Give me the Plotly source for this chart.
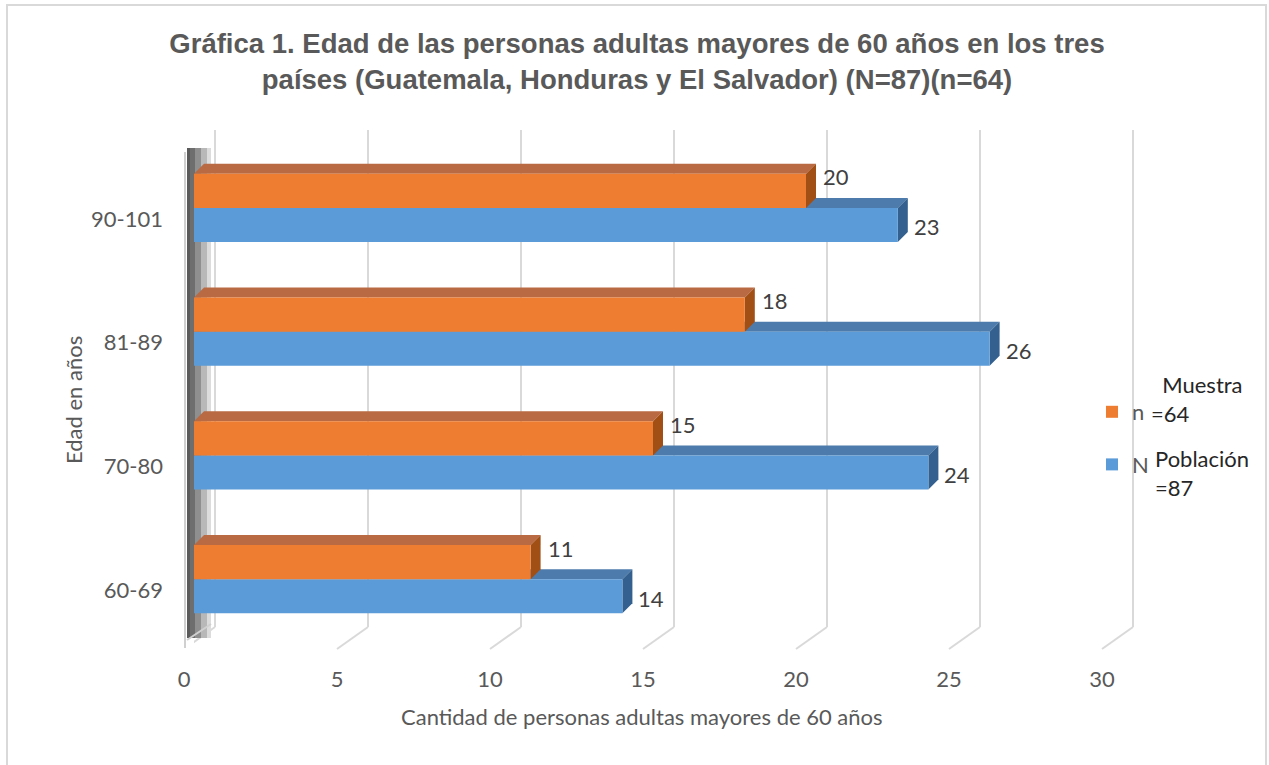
import plotly.graph_objects as go

# ---------------- data ----------------
categories = ["60-69", "70-80", "81-89", "90-101"]
poblacion_N = [14, 24, 26, 23]     # N = 87 (blue)
muestra_n = [11, 15, 18, 20]       # n = 64 (orange)
x_ticks = [0, 5, 10, 15, 20, 25, 30]

# ---------------- geometry helpers ----------------
W, H = 1269, 765


def px(x):
    return x / W


def py(y):
    return 1 - y / H


UX = 30.6            # pixels per unit on x
X0 = 194             # pixel of x = 0 (front face)
XR = 31.5            # x-axis range end
Y0, Y1 = 146, 641    # plot area top / bottom (pixels)
UY = (Y1 - Y0) / len(categories)
BARGAP = 0.45
BARW = (1 - BARGAP) / 2
DX = 10 / UX         # 3-D depth in data units
DY = 10 / UY

ORANGE = "#ef7d31"
ORANGE_TOP = "#b96a42"
ORANGE_SIDE = "#a24f16"
BLUE = "#5b9bd8"
BLUE_TOP = "#4d7bab"
BLUE_SIDE = "#33608f"
GRID = "#d9d9d9"
TXT = "#595959"
FONT = "Lato"
FS = 22

idx = list(range(len(categories)))

fig = go.Figure()
fig.add_trace(go.Bar(
    y=idx, x=poblacion_N, orientation="h", name="N",
    marker=dict(color=BLUE, line=dict(width=0)),
    legendgroup="N", legendrank=2,
))
fig.add_trace(go.Bar(
    y=idx, x=muestra_n, orientation="h", name="n",
    marker=dict(color=ORANGE, line=dict(width=0)),
    legendgroup="n", legendrank=1,
))

shapes = []
# chart border
shapes.append(dict(type="rect", xref="paper", yref="paper",
                   x0=px(7), x1=px(1266), y0=py(5), y1=py(775),
                   line=dict(color=GRID, width=2), layer="below"))
# back-wall gridlines + floor diagonals
for v in x_ticks:
    xb = v + 21 / UX
    xf = v - 10 / UX
    shapes.append(dict(type="line", xref="x", yref="paper",
                       x0=xb, x1=xb, y0=py(627), y1=py(130),
                       line=dict(color=GRID, width=2), layer="below"))
    shapes.append(dict(type="line", xref="x", yref="paper",
                       x0=xb, x1=xf, y0=py(627), y1=py(649),
                       line=dict(color=GRID, width=2), layer="below"))
# left wall (striped to suggest the shaded 3-D wall)
shapes.append(dict(type="line", xref="paper", yref="paper",
                   x0=px(185), x1=px(185), y0=py(152), y1=py(648),
                   line=dict(color="#d0d0d0", width=2), layer="below"))
for xa, xb_, col in [(187, 190, "#5a5a5a"), (190, 195, "#6e6e6e"),
                     (195, 201, "#8f8f8f"), (201, 207, "#b8b8b8"),
                     (207, 211, "#dcdcdc")]:
    shapes.append(dict(type="rect", xref="paper", yref="paper",
                       x0=px(xa), x1=px(xb_), y0=py(148), y1=py(638),
                       fillcolor=col, line=dict(width=0), layer="below"))
shapes.append(dict(type="line", xref="paper", yref="paper",
                   x0=px(187), x1=px(211), y0=py(640), y1=py(624),
                   line=dict(color="#d0d0d0", width=2), layer="below"))


def faces(values, offset, top_c, side_c):
    out = []
    for i, v in zip(idx, values):
        yb = i + offset - BARW / 2
        yt = i + offset + BARW / 2
        out.append(dict(type="path", xref="x", yref="y", layer="below",
                        path=f"M0,{yt} L{DX},{yt + DY} L{v + DX},{yt + DY} L{v},{yt} Z",
                        fillcolor=top_c, line=dict(width=0)))
        out.append(dict(type="path", xref="x", yref="y", layer="below",
                        path=f"M{v},{yb} L{v},{yt} L{v + DX},{yt + DY} L{v + DX},{yb + DY} Z",
                        fillcolor=side_c, line=dict(width=0)))
    return out


shapes += faces(poblacion_N, -BARW / 2, BLUE_TOP, BLUE_SIDE)
shapes += faces(muestra_n, BARW / 2, ORANGE_TOP, ORANGE_SIDE)

annotations = []
# data labels
for i, v in zip(idx, muestra_n):
    annotations.append(dict(x=v, y=i + BARW / 2, xref="x", yref="y", text=str(v),
                            showarrow=False, xanchor="left", yanchor="middle",
                            xshift=15, yshift=14,
                            font=dict(family=FONT, size=FS, color="#404040")))
for i, v in zip(idx, poblacion_N):
    annotations.append(dict(x=v, y=i - BARW / 2, xref="x", yref="y", text=str(v),
                            showarrow=False, xanchor="left", yanchor="middle",
                            xshift=14, yshift=-2,
                            font=dict(family=FONT, size=FS, color="#404040")))
# axis titles
annotations.append(dict(x=px(642), y=py(716), xref="paper", yref="paper",
                        text="Cantidad de personas adultas mayores de 60 años",
                        showarrow=False, xanchor="center", yanchor="middle",
                        font=dict(family=FONT, size=FS, color=TXT)))
annotations.append(dict(x=px(73), y=py(400), xref="paper", yref="paper",
                        text="Edad en años", textangle=-90,
                        showarrow=False, xanchor="center", yanchor="middle",
                        font=dict(family=FONT, size=FS, color=TXT)))
# legend side texts (one two-line block per entry)
for txt, x, y in [("&nbsp;&nbsp;Muestra<br>=64", 1149, 399),
                  ("Población<br>=87", 1153, 473)]:
    annotations.append(dict(x=px(x), y=py(y), xref="paper", yref="paper",
                            text=txt, align="left", showarrow=False,
                            xanchor="left", yanchor="middle",
                            font=dict(family=FONT, size=FS, color="#262626")))

fig.update_layout(
    width=W, height=H,
    margin=dict(l=0, r=0, t=0, b=0),
    paper_bgcolor="white", plot_bgcolor="rgba(0,0,0,0)",
    barmode="group", bargap=BARGAP, bargroupgap=0,
    title=dict(
        text="<b>Gráfica 1. Edad de las personas adultas mayores de 60 años en los tres<br>"
             "países (Guatemala, Honduras y El Salvador) (N=87)(n=64)</b>",
        x=px(637), xanchor="center", y=py(53), yanchor="middle",
        font=dict(family="Liberation Sans", size=27.5, color=TXT),
    ),
    xaxis=dict(
        domain=[px(X0), px(X0 + XR * UX)], range=[0, XR], automargin=False,
        tickvals=x_ticks, showgrid=False, zeroline=False, showline=False,
        ticks="", ticklabelshift=-10, ticklabelstandoff=23,
        tickfont=dict(family=FONT, size=FS, color=TXT),
    ),
    yaxis=dict(
        domain=[py(Y1), py(Y0)], range=[-0.5, len(categories) - 0.5], automargin=False,
        tickvals=idx, ticktext=categories,
        showgrid=False, zeroline=False, showline=False,
        ticks="", ticklabelshift=11, ticklabelstandoff=30,
        tickfont=dict(family=FONT, size=FS, color=TXT),
    ),
    legend=dict(
        x=px(1092), y=py(391), xanchor="left", yanchor="top",
        orientation="v", tracegroupgap=21, bgcolor="rgba(0,0,0,0)",
        font=dict(family=FONT, size=FS, color=TXT),
    ),
    shapes=shapes,
    annotations=annotations,
    showlegend=True,
)

fig.write_html("out.html", config={"displayModeBar": False},
               post_script="document.body.style.margin='0px';")
